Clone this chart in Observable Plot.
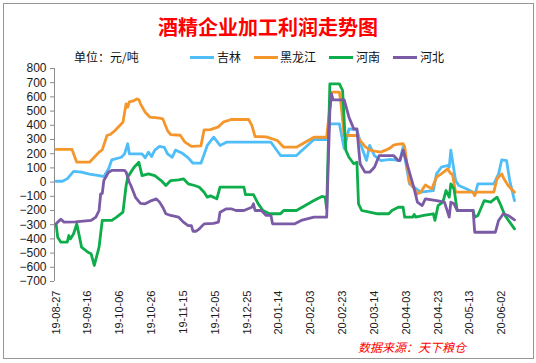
<!DOCTYPE html>
<html><head><meta charset="utf-8">
<script src="https://cdn.jsdelivr.net/npm/d3@7"></script>
<script src="https://cdn.jsdelivr.net/npm/@observablehq/plot@0.6"></script>
<style>
html,body{margin:0;padding:0;background:#fff;}
#wrap{position:relative;width:536px;height:363px;overflow:hidden;font-family:"Liberation Sans",Arial,sans-serif;}
#border{position:absolute;left:3px;top:3px;width:531px;height:356px;box-sizing:border-box;border:1px solid #969696;}
#title{position:absolute;left:0;top:15px;width:536px;text-align:center;color:#ff0000;font-family:"Noto Sans CJK SC",sans-serif;font-weight:bold;font-size:20px;line-height:24px;}
.lg{position:absolute;top:50px;font-family:"Noto Sans CJK SC",sans-serif;font-size:12px;line-height:14px;color:#111;}
.sw{position:absolute;top:56px;width:24px;height:3px;}
#caption{position:absolute;left:358px;top:340px;color:#ff0000;font-family:"Noto Sans CJK SC",sans-serif;font-style:italic;font-size:12px;line-height:14px;}
#chart{position:absolute;left:0;top:0;}
</style>
</head><body>
<div id="wrap">
  <div id="border"></div>
  <div id="chart"></div>
  <div id="title">酒精企业加工利润走势图</div>
  <div class="lg" style="left:74px">单位：元/吨</div>
  <div id="legend"></div>
  <div id="caption">数据来源：天下粮仓</div>
</div>
<script>
const seriesNames = ["吉林", "黑龙江", "河南", "河北"];
const seriesColors = ["#4fbdf7", "#f4962b", "#0cad4a", "#7b5aa6"];
const yTicks = [800, 700, 600, 500, 400, 300, 200, 100, 0, -100, -200, -300, -400, -500, -600, -700];
const xTickLabels = ["19-08-27","19-09-16","19-10-06","19-10-26","19-11-15","19-12-05","19-12-25","20-01-14","20-02-03","20-02-23","20-03-14","20-04-03","20-04-23","20-05-13","20-06-02"];

const jilinDates = ["2019-08-27","2019-08-31","2019-09-03","2019-09-07","2019-09-12","2019-09-17","2019-09-23","2019-09-26","2019-09-29","2019-10-01","2019-10-07","2019-10-09","2019-10-11","2019-10-12","2019-10-20","2019-10-22","2019-10-24","2019-10-26","2019-10-28","2019-10-31","2019-11-03","2019-11-05","2019-11-08","2019-11-10","2019-11-14","2019-11-18","2019-11-21","2019-11-26","2019-11-30","2019-12-04","2019-12-08","2019-12-12","2020-01-09","2020-01-15","2020-01-25","2020-02-05","2020-02-13","2020-02-15","2020-02-21","2020-02-24","2020-02-27","2020-03-03","2020-03-06","2020-03-09","2020-03-11","2020-03-14","2020-03-18","2020-03-24","2020-03-30","2020-04-01","2020-04-05","2020-04-12","2020-04-20","2020-04-22","2020-04-25","2020-04-29","2020-04-30","2020-05-01","2020-05-04","2020-05-06","2020-05-11","2020-05-15","2020-05-16","2020-05-18","2020-05-28","2020-05-31","2020-06-02","2020-06-05","2020-06-07","2020-06-10"];
const jilinValues = [6,6,23,75,70,56,46,39,94,157,175,199,270,199,199,171,211,180,225,251,245,199,175,225,205,171,133,133,258,316,258,281,281,187,187,300,300,410,410,236,375,368,246,152,258,187,152,160,152,246,-12,-71,-60,58,105,117,105,225,11,-24,-48,-71,-94,-12,-12,58,157,152,11,-130];

const hljDates = ["2019-08-27","2019-09-06","2019-09-09","2019-09-17","2019-09-20","2019-09-23","2019-09-25","2019-09-28","2019-09-30","2019-10-03","2019-10-08","2019-10-10","2019-10-11","2019-10-12","2019-10-14","2019-10-17","2019-10-18","2019-10-19","2019-10-22","2019-10-25","2019-10-31","2019-11-02","2019-11-05","2019-11-07","2019-11-13","2019-11-16","2019-11-20","2019-11-26","2019-11-28","2019-12-02","2019-12-07","2019-12-10","2019-12-15","2019-12-26","2019-12-28","2019-12-30","2020-01-06","2020-01-13","2020-01-17","2020-01-25","2020-02-05","2020-02-13","2020-02-16","2020-02-21","2020-02-22","2020-02-24","2020-03-03","2020-03-05","2020-03-08","2020-03-11","2020-03-14","2020-03-18","2020-03-21","2020-03-24","2020-03-26","2020-03-29","2020-04-01","2020-04-02","2020-04-05","2020-04-08","2020-04-10","2020-04-12","2020-04-15","2020-04-19","2020-04-22","2020-04-25","2020-04-29","2020-05-01","2020-05-02","2020-05-04","2020-05-15","2020-05-16","2020-05-17","2020-05-28","2020-05-30","2020-06-02","2020-06-03","2020-06-06","2020-06-10"];
const hljValues = [230,230,140,140,175,211,227,328,335,363,422,551,528,565,570,586,580,551,492,457,450,446,363,335,330,281,251,255,368,370,389,422,441,441,400,321,319,293,246,246,316,316,633,633,551,328,328,293,251,227,218,211,225,241,260,267,270,250,-1,-48,-83,-71,-20,-48,35,58,93,58,58,-71,-71,-94,-71,-71,23,58,30,-24,-71];

const henanDates = ["2019-08-27","2019-08-28","2019-08-30","2019-09-03","2019-09-04","2019-09-05","2019-09-07","2019-09-09","2019-09-12","2019-09-16","2019-09-18","2019-09-20","2019-09-23","2019-09-25","2019-10-01","2019-10-04","2019-10-08","2019-10-10","2019-10-11","2019-10-15","2019-10-18","2019-10-20","2019-10-24","2019-10-28","2019-11-01","2019-11-04","2019-11-07","2019-11-12","2019-11-15","2019-11-18","2019-11-22","2019-11-25","2019-11-28","2019-11-30","2019-12-02","2019-12-06","2019-12-08","2019-12-23","2019-12-24","2019-12-29","2020-01-01","2020-01-04","2020-01-08","2020-01-15","2020-01-17","2020-01-25","2020-02-05","2020-02-10","2020-02-12","2020-02-13","2020-02-15","2020-02-21","2020-02-23","2020-02-25","2020-02-27","2020-03-01","2020-03-03","2020-03-04","2020-03-06","2020-03-11","2020-03-16","2020-03-23","2020-03-25","2020-03-29","2020-04-01","2020-04-02","2020-04-07","2020-04-08","2020-04-09","2020-04-14","2020-04-20","2020-04-21","2020-04-23","2020-04-26","2020-04-28","2020-04-30","2020-05-01","2020-05-03","2020-05-05","2020-05-15","2020-05-16","2020-05-18","2020-05-22","2020-05-26","2020-05-30","2020-06-01","2020-06-04","2020-06-07","2020-06-10"];
const henanValues = [-294,-388,-423,-423,-376,-400,-364,-294,-458,-494,-505,-587,-458,-270,-270,-247,-212,-24,35,105,140,46,58,46,11,-24,11,16,23,-12,-24,-36,-71,-106,-97,-118,-36,-36,-88,-88,-153,-200,-223,-223,-200,-200,-130,-101,-106,-188,692,692,645,225,175,129,140,-153,-200,-211,-223,-223,-200,-177,-177,-247,-247,-228,-247,-235,-223,-270,-165,-141,-59,-106,-12,-48,-200,-200,-247,-235,-130,-141,-106,-153,-235,-282,-329];

const hebeiDates = ["2019-08-27","2019-08-28","2019-08-30","2019-09-01","2019-09-08","2019-09-18","2019-09-21","2019-09-23","2019-09-24","2019-09-25","2019-09-26","2019-09-29","2019-10-01","2019-10-09","2019-10-10","2019-10-12","2019-10-13","2019-10-16","2019-10-19","2019-10-22","2019-10-26","2019-10-29","2019-10-31","2019-11-02","2019-11-04","2019-11-07","2019-11-12","2019-11-15","2019-11-18","2019-11-20","2019-11-21","2019-11-23","2019-11-25","2019-11-28","2019-12-04","2019-12-07","2019-12-08","2019-12-12","2019-12-15","2019-12-18","2019-12-23","2019-12-28","2019-12-29","2019-12-30","2020-01-03","2020-01-06","2020-01-09","2020-01-10","2020-01-24","2020-01-28","2020-02-05","2020-02-13","2020-02-15","2020-02-16","2020-02-17","2020-02-24","2020-02-27","2020-03-01","2020-03-03","2020-03-05","2020-03-08","2020-03-11","2020-03-14","2020-03-17","2020-03-26","2020-03-29","2020-03-30","2020-04-01","2020-04-02","2020-04-08","2020-04-10","2020-04-13","2020-04-15","2020-04-22","2020-04-27","2020-04-30","2020-05-01","2020-05-03","2020-05-05","2020-05-15","2020-05-16","2020-05-29","2020-05-31","2020-06-03","2020-06-06","2020-06-10"];
const hebeiValues = [-294,-282,-261,-282,-280,-270,-247,-200,-83,-80,11,70,82,82,70,-1,-24,-110,-150,-153,-130,-118,-141,-177,-223,-235,-247,-282,-306,-306,-346,-346,-329,-294,-290,-282,-212,-188,-188,-200,-200,-177,-153,-200,-200,-235,-235,-294,-294,-270,-247,-247,504,622,579,579,457,375,375,129,70,70,105,187,187,152,152,225,187,-48,-141,-165,-118,-130,-141,-247,-141,-153,-200,-200,-353,-353,-270,-223,-235,-266];

const parseDay = d3.utcParse("%Y-%m-%d");
const parseTick = d3.utcParse("%y-%m-%d");
function rows(name, dates, values) {
  return dates.map((d, i) => ({date: parseDay(d), value: values[i], series: name}));
}
const data = [
  ...rows("吉林", jilinDates, jilinValues),
  ...rows("黑龙江", hljDates, hljValues),
  ...rows("河南", henanDates, henanValues),
  ...rows("河北", hebeiDates, hebeiValues)
];
const xStart = parseDay("2019-08-26");
const xEnd = parseDay("2020-06-10");

const chart = Plot.plot({
  width: 536,
  height: 363,
  marginTop: 68,
  marginBottom: 82,
  marginLeft: 54,
  marginRight: 22,
  style: {background: "transparent", fontFamily: "'Liberation Sans', Arial, sans-serif", color: "#1a1a1a"},
  x: {type: "utc", domain: [xStart, xEnd]},
  y: {domain: [-700, 800]},
  color: {domain: seriesNames, range: seriesColors},
  marks: [
    Plot.ruleX([xStart], {y1: -700, y2: 800, stroke: "#8c8c8c", strokeWidth: 1}),
    Plot.axisY({ticks: yTicks, tickSize: 4, tickPadding: 4, fontSize: 12, stroke: "#8c8c8c", fill: "#1a1a1a", label: null}),
    Plot.axisX({ticks: xTickLabels.map(parseTick), tickFormat: d3.utcFormat("%y-%m-%d"), tickRotate: -90, tickSize: 0, tickPadding: 9, fontSize: 11, fill: "#1a1a1a", label: null}),
    Plot.line(data, {x: "date", y: "value", z: "series", stroke: "series", strokeWidth: 2.8, strokeLinejoin: "round"})
  ]
});
document.getElementById("chart").appendChild(chart);

// legend
const legendPos = [[190, 217], [254, 280], [329, 356], [393, 420]];
const legend = document.getElementById("legend");
seriesNames.forEach((name, i) => {
  const sw = document.createElement("div");
  sw.className = "sw";
  sw.style.left = legendPos[i][0] + "px";
  sw.style.background = seriesColors[i];
  legend.appendChild(sw);
  const t = document.createElement("div");
  t.className = "lg";
  t.style.left = legendPos[i][1] + "px";
  t.textContent = name;
  legend.appendChild(t);
});
</script>
</body></html>
